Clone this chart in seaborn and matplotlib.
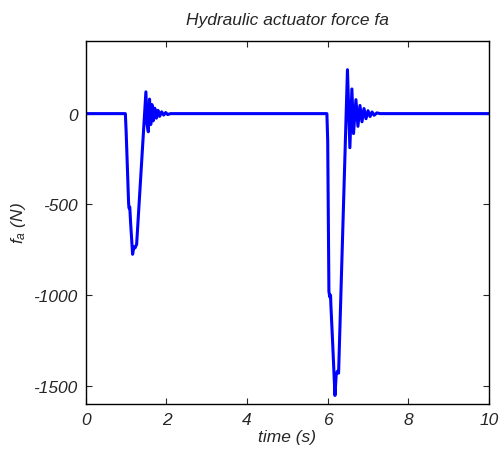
import numpy as np
import pandas as pd
import matplotlib
matplotlib.use('Agg')
import matplotlib.pyplot as plt
import seaborn as sns

# time (s) and actuator force (N)
t_s = [0.0, 0.98, 1.00, 1.06, 1.07, 1.09, 1.11, 1.16, 1.19, 1.22, 1.26,
       1.49, 1.52, 1.55, 1.58, 1.61, 1.64, 1.67, 1.71, 1.75, 1.79, 1.83,
       1.88, 1.93, 1.98, 2.03, 2.10,
       5.98, 6.00, 6.03, 6.05, 6.07, 6.08, 6.12, 6.18, 6.21, 6.24, 6.27,
       6.49, 6.55, 6.60, 6.64, 6.70, 6.75, 6.80, 6.85, 6.90, 6.95, 7.00,
       7.05, 7.10, 7.15, 7.22, 7.30, 10.0]
fa_N = [0, 0, -100, -490, -520, -515, -600, -775, -735, -740, -720,
        120, -60, -100, 80, -60, 50, -40, 30, -25, 18, -15,
        10, -8, 6, -5, 0,
        0, -150, -980, -1010, -1000, -1060, -1250, -1553, -1440, -1420, -1430,
        242, -188, 136, -110, 77, -70, 45, -45, 28, -28, 16,
        -16, 9, -9, 4, 0, 0]

x_ticks = [0, 2, 4, 6, 8, 10]
y_ticks = [-1500, -1000, -500, 0]

sns.set_style('ticks')
plt.rcParams['font.family'] = ['Liberation Sans', 'DejaVu Sans']
plt.rcParams['axes.unicode_minus'] = False
plt.rcParams['mathtext.fontset'] = 'custom'
plt.rcParams['mathtext.it'] = 'Liberation Sans:italic'
plt.rcParams['mathtext.rm'] = 'Liberation Sans:italic'

df = pd.DataFrame({'t': t_s, 'fa': fa_N})

fig = plt.figure(figsize=(5.02, 4.52), dpi=100)
ax = fig.add_axes([0.171, 0.104, 0.803, 0.803])
sns.lineplot(data=df, x='t', y='fa', ax=ax, color='#0000ff', linewidth=2.2)

ax.set_xlim(0, 10)
ax.set_ylim(-1600, 400)
ax.set_xticks(x_ticks)
ax.set_yticks(y_ticks)
ax.tick_params(direction='in', top=True, right=True, length=4, width=0.8,
               labelsize=12.5, pad=6)
for lbl in ax.get_xticklabels() + ax.get_yticklabels():
    lbl.set_fontstyle('italic')
for sp in ax.spines.values():
    sp.set_linewidth(1.0)
    sp.set_color('black')

ax.set_title('Hydraulic actuator force fa', fontsize=12.5, style='italic', pad=12)
ax.set_xlabel('time (s)', fontsize=12.5, style='italic', labelpad=1)
ax.set_ylabel(r'$f_a$ (N)', fontsize=12.5, style='italic', labelpad=4)

fig.savefig('out.png', dpi=100)
